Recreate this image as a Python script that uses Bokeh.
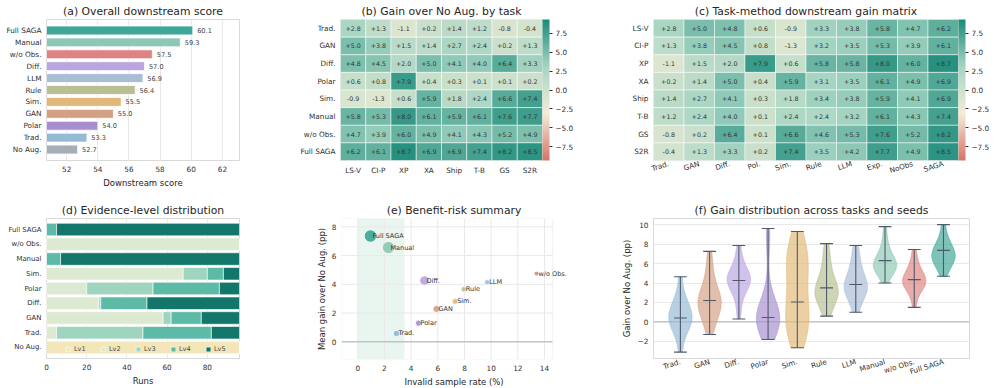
import numpy as np
from bokeh.plotting import figure
from bokeh.layouts import row, column
from bokeh.models import (ColumnDataSource, FactorRange, Range1d, LinearColorMapper, ColorBar,
                          FixedTicker, CustomJSTickFormatter, BoxAnnotation)
from bokeh.core.properties import value
from bokeh.embed import file_html
from bokeh.resources import INLINE

FONT = "DejaVu Sans"
INK = "#2f2f2f"
GRID = "#e9e9e9"
FRAME = "#d9d9d9"

# ---------------- data ----------------
# (a) overall downstream score
score_methods = ["Full SAGA", "Manual", "w/o Obs.", "Diff.", "LLM", "Rule", "Sim.", "GAN", "Polar", "Trad.", "No Aug."]
score_values = [60.1, 59.3, 57.5, 57.0, 56.9, 56.4, 55.5, 55.0, 54.0, 53.3, 52.7]

method_colors = {
    "Full SAGA": "#3fa797", "Manual": "#8ec8b5", "w/o Obs.": "#dd8482", "Diff.": "#baa5e0",
    "LLM": "#a9bdd6", "Rule": "#b8bf92", "Sim.": "#e0b978", "GAN": "#d4a084",
    "Polar": "#a78fcf", "Trad.": "#95bad4", "No Aug.": "#a5adb8",
}

# (b)/(c) gain over No Aug. per task
tasks = ["LS-V", "CI-P", "XP", "XA", "Ship", "T-B", "GS", "S2R"]
heat_rows = ["Trad.", "GAN", "Diff.", "Polar", "Sim.", "Manual", "w/o Obs.", "Full SAGA"]
gain_trad = [2.8, 1.3, -1.1, 0.2, 1.4, 1.2, -0.8, -0.4]
gain_gan = [5.0, 3.8, 1.5, 1.4, 2.7, 2.4, 0.2, 1.3]
gain_diff = [4.8, 4.5, 2.0, 5.0, 4.1, 4.0, 6.4, 3.3]
gain_polar = [0.6, 0.8, 7.9, 0.4, 0.3, 0.1, 0.1, 0.2]
gain_sim = [-0.9, -1.3, 0.6, 5.9, 1.8, 2.4, 6.6, 7.4]
gain_rule = [3.3, 3.2, 5.8, 3.1, 3.4, 2.4, 4.6, 3.5]
gain_llm = [3.8, 3.5, 5.8, 3.5, 3.8, 3.2, 5.3, 4.2]
gain_manual = [5.8, 5.3, 8.0, 6.1, 5.9, 6.1, 7.6, 7.7]
gain_noobs = [4.7, 3.9, 6.0, 4.9, 4.1, 4.3, 5.2, 4.9]
gain_saga = [6.2, 6.1, 8.7, 6.9, 6.9, 7.4, 8.2, 8.5]
matrix_cols = ["Trad.", "GAN", "Diff.", "Pol.", "Sim.", "Rule", "LLM", "Exp.", "NoObs", "SAGA"]
cbar_ticks = [-7.5, -5.0, -2.5, 0.0, 2.5, 5.0, 7.5]

# (d) evidence-level distribution (runs)
ev_methods = ["No Aug.", "Trad.", "GAN", "Diff.", "Polar", "Sim.", "Manual", "w/o Obs.", "Full SAGA"]
lv1 = [96, 0, 0, 0, 0, 0, 0, 0, 0]
lv2 = [0, 5, 58, 26, 20, 68, 0, 96, 0]
lv3 = [0, 43, 4, 1, 33, 12, 0, 0, 0]
lv4 = [0, 34, 15, 23, 33, 8, 7, 0, 5]
lv5 = [0, 14, 19, 46, 10, 8, 89, 0, 91]
lv_labels = ["Lv1", "Lv2", "Lv3", "Lv4", "Lv5"]
lv_colors = ["#f3e6b9", "#dcead2", "#9fd4bf", "#5cbaa6", "#12776a"]

# (e) benefit-risk summary
risk_methods = ["Full SAGA", "Manual", "Diff.", "w/o Obs.", "LLM", "Rule", "Sim.", "GAN", "Polar", "Trad."]
invalid_rate = [0.95, 2.3, 5.0, 13.4, 9.7, 7.95, 7.3, 5.9, 4.55, 2.9]
mean_gain = [7.36, 6.56, 4.26, 4.75, 4.14, 3.66, 2.81, 2.29, 1.30, 0.58]
top_level_share = [91, 89, 46, 0, 5, 5, 8, 19, 10, 14]
e_xticks = [0, 2, 4, 6, 8, 10, 12, 14]
e_yticks = [0, 2, 4, 6, 8]

# (f) gain distribution across tasks and seeds
vio_methods = ["Trad.", "GAN", "Diff.", "Polar", "Sim.", "Rule", "LLM", "Manual", "w/o Obs.", "Full SAGA"]
samples_trad = [-3.1, -1.6, -0.9, -0.5, -0.2, 0.0, 0.2, 0.4, 0.6, 0.9, 1.2, 1.5, 1.8, 2.2, 3.0, 4.65]
samples_gan = [-1.3, -0.4, 0.4, 0.9, 1.3, 1.6, 1.8, 2.0, 2.2, 2.4, 2.7, 3.2, 3.8, 4.6, 5.8, 7.25]
samples_diff = [0.3, 1.8, 2.8, 3.4, 3.8, 4.0, 4.2, 4.3, 4.4, 4.5, 4.7, 4.9, 5.3, 5.8, 6.6, 7.85]
samples_polar = [-1.8, -1.0, -0.6, -0.3, -0.1, 0.1, 0.2, 0.3, 0.45, 0.6, 0.8, 1.0, 1.4, 2.0, 2.9, 8.0, 9.6]
samples_sim = [-2.65, -1.8, -1.2, -0.7, -0.2, 0.3, 0.7, 1.2, 1.8, 2.5, 3.3, 4.2, 5.0, 5.6, 6.1, 6.6, 7.0, 7.5, 8.2, 9.3]
samples_rule = [0.6, 1.5, 2.1, 2.5, 2.7, 2.9, 3.1, 3.3, 3.5, 3.8, 4.3, 5.0, 5.8, 6.8, 8.05]
samples_llm = [1.0, 2.0, 2.6, 3.0, 3.2, 3.4, 3.6, 3.8, 4.0, 4.3, 4.7, 5.3, 6.0, 6.8, 7.85]
samples_manual = [4.0, 4.8, 5.2, 5.4, 5.6, 5.7, 5.8, 5.9, 6.1, 6.3, 6.6, 7.0, 7.6, 8.3, 9.8]
samples_noobs = [1.5, 2.8, 3.4, 3.7, 3.9, 4.0, 4.1, 4.2, 4.4, 4.6, 4.9, 5.2, 5.7, 6.3, 7.45]
samples_saga = [4.7, 5.5, 5.9, 6.2, 6.4, 6.6, 6.8, 7.0, 7.2, 7.5, 7.8, 8.2, 8.7, 10.0]
vio_median = [0.4, 2.2, 4.25, 0.45, 2.05, 3.5, 3.85, 6.3, 4.35, 7.35]


# ---------------- helpers ----------------
def lerp_palette(anchors, n=256):
    rgb = np.array([[int(c[i:i + 2], 16) for i in (1, 3, 5)] for c in anchors], float)
    t = np.linspace(0, 1, n)
    pos = np.linspace(0, 1, len(anchors))
    out = []
    for tt in t:
        r = [np.interp(tt, pos, rgb[:, k]) for k in range(3)]
        out.append("#%02x%02x%02x" % tuple(int(round(v)) for v in r))
    return out


def base_fig(x_range, y_range, fw, fh, l, r, t, b, title):
    p = figure(x_range=x_range, y_range=y_range, frame_width=fw, frame_height=fh,
               min_border_left=l, min_border_right=r, min_border_top=t, min_border_bottom=b,
               output_backend="svg", toolbar_location=None, title=title)
    p.background_fill_color = "white"
    p.border_fill_color = "white"
    p.outline_line_color = FRAME
    p.outline_line_width = 1
    p.title.text_font = FONT
    p.title.text_font_size = "10.8px"
    p.title.text_font_style = "normal"
    p.title.text_color = "#262626"
    p.title.align = "center"
    p.title.standoff = 3
    for ax in list(p.xaxis) + list(p.yaxis):
        ax.axis_line_color = None
        ax.major_tick_line_color = None
        ax.minor_tick_line_color = None
        ax.major_tick_out = 0
        ax.major_tick_in = 0
        ax.minor_tick_out = 0
        ax.minor_tick_in = 0
        ax.major_label_text_font = FONT
        ax.major_label_text_font_size = "7.3px"
        ax.major_label_text_color = INK
        ax.axis_label_text_font = FONT
        ax.axis_label_text_font_size = "8.5px"
        ax.axis_label_text_font_style = "normal"
        ax.axis_label_text_color = "#262626"
        ax.major_label_standoff = 5
        ax.axis_label_standoff = 3
    p.xgrid.grid_line_color = GRID
    p.ygrid.grid_line_color = GRID
    return p


minus_fmt0 = "return (tick < 0 ? '\\u2212' : '') + Math.abs(tick).toFixed(0);"
minus_fmt1 = "return (tick < 0 ? '\\u2212' : '') + Math.abs(tick).toFixed(1);"

# ---------------- (a) ----------------
pa = base_fig(Range1d(50.7, 63.1),
              FactorRange(factors=list(reversed(score_methods)), range_padding=0.42, range_padding_units="absolute"),
              193, 141, 46, 11, 19, 30, "(a) Overall downstream score")
src_a = ColumnDataSource(dict(m=score_methods, v=score_values,
                              c=[method_colors[m] for m in score_methods],
                              lx=[v + 0.28 for v in score_values],
                              lab=["%.1f" % v for v in score_values]))
pa.hbar(y="m", left=0, right="v", height=0.75, fill_color="c", fill_alpha=1.0,
        line_color="white", line_width=0.8, source=src_a)
pa.text(x="lx", y="m", text="lab", source=src_a, text_font=value(FONT), text_font_size="6.6px",
        text_color="#444444", text_baseline="middle", text_align="left")
pa.xaxis.ticker = FixedTicker(ticks=[52, 54, 56, 58, 60, 62])
pa.xaxis.axis_label = "Downstream score"
pa.ygrid.grid_line_color = None

# ---------------- heatmap palette ----------------
heat_palette = lerp_palette(["#d6756b", "#f4edd6", "#a6d5c3", "#1a8a78"])
mapper = LinearColorMapper(palette=heat_palette, low=-9.3, high=9.3)


def add_colorbar(p):
    cb = ColorBar(color_mapper=mapper, ticker=FixedTicker(ticks=cbar_ticks),
                  formatter=CustomJSTickFormatter(code=minus_fmt1),
                  width=7, padding=0, margin=3,
                  major_label_text_font=FONT, major_label_text_font_size="7.3px",
                  major_label_text_color=INK, major_tick_line_color=INK,
                  major_tick_in=0, major_tick_out=3, minor_tick_line_color=None,
                  bar_line_color=None, border_line_color=None,
                  background_fill_alpha=0, label_standoff=3)
    p.add_layout(cb, "right")


def heat_style(p):
    p.xgrid.grid_line_color = None
    p.ygrid.grid_line_color = None
    p.outline_line_color = "#e4e4e4"


# ---------------- (b) ----------------
b_series = [gain_trad, gain_gan, gain_diff, gain_polar, gain_sim, gain_manual, gain_noobs, gain_saga]
bx, by, bv = [], [], []
for rname, vals in zip(heat_rows, b_series):
    for t, v in zip(tasks, vals):
        bx.append(t); by.append(rname); bv.append(v)
src_b = ColumnDataSource(dict(x=bx, y=by, v=bv, lab=["%+.1f" % v for v in bv]))
pb = base_fig(FactorRange(factors=tasks), FactorRange(factors=list(reversed(heat_rows))),
              202, 141, 90, 58, 19, 30, "(b) Gain over No Aug. by task")
pb.rect(x="x", y="y", width=1, height=1, source=src_b,
        fill_color={"field": "v", "transform": mapper}, line_color="white", line_width=0.5)
pb.text(x="x", y="y", text="lab", source=src_b, text_font=value(FONT), text_font_size="6.3px",
        text_color="#333333", text_align="center", text_baseline="middle")
heat_style(pb)
add_colorbar(pb)

# ---------------- (c) ----------------
c_series = [gain_trad, gain_gan, gain_diff, gain_polar, gain_sim, gain_rule, gain_llm,
            gain_manual, gain_noobs, gain_saga]
cx, cy, cv = [], [], []
for cname, vals in zip(matrix_cols, c_series):
    for t, v in zip(tasks, vals):
        cx.append(cname); cy.append(t); cv.append(v)
src_c = ColumnDataSource(dict(x=cx, y=cy, v=cv, lab=["%+.1f" % v for v in cv]))
pc = base_fig(FactorRange(factors=matrix_cols), FactorRange(factors=list(reversed(tasks))),
              305, 141, 53, 39, 19, 30, "(c) Task-method downstream gain matrix")
pc.rect(x="x", y="y", width=1, height=1, source=src_c,
        fill_color={"field": "v", "transform": mapper}, line_color="white", line_width=0.5)
pc.text(x="x", y="y", text="lab", source=src_c, text_font=value(FONT), text_font_size="6.3px",
        text_color="#333333", text_align="center", text_baseline="middle")
pc.xaxis.major_label_orientation = 0.3
pc.xaxis.major_label_standoff = 3
heat_style(pc)
add_colorbar(pc)

# ---------------- (d) ----------------
src_d = ColumnDataSource(dict(m=ev_methods, Lv1=lv1, Lv2=lv2, Lv3=lv3, Lv4=lv4, Lv5=lv5))
pd_ = base_fig(Range1d(0, 96),
               FactorRange(factors=ev_methods, range_padding=0.25, range_padding_units="absolute"),
               193, 140, 46, 51, 28, 30, "(d) Evidence-level distribution")
pd_.hbar_stack(lv_labels, y="m", height=0.85, color=lv_colors, source=src_d,
               line_color="white", line_width=0.6, legend_label=lv_labels)
pd_.xaxis.ticker = FixedTicker(ticks=[0, 20, 40, 60, 80])
pd_.xaxis.axis_label = "Runs"
pd_.ygrid.grid_line_color = None
pd_.yaxis.major_label_text_font_size = "6.9px"
leg = pd_.legend[0]
leg.orientation = "horizontal"
leg.location = "bottom_right"
leg.background_fill_alpha = 0
leg.border_line_alpha = 0
leg.label_text_font = FONT
leg.label_text_font_size = "6.5px"
leg.label_text_color = "#444444"
leg.glyph_width = 6
leg.glyph_height = 6
leg.label_height = 7
leg.label_standoff = 3
leg.spacing = 6
leg.padding = 1
leg.margin = 4

# ---------------- (e) ----------------
# the drawing area is widened to the right so that the "w/o Obs." label can extend
# past the visible axes box, as in the reference; the box itself is drawn separately
E_X0, E_X1, E_Y0, E_Y1 = -1.22, 14.6, -1.23, 8.58
E_EXTRA = 1.05
src_e = ColumnDataSource(dict(x=invalid_rate, y=mean_gain, name=risk_methods,
                              c=[method_colors[m] for m in risk_methods],
                              s=[float(np.sqrt(22 + 1.45 * v)) for v in top_level_share]))
pe = base_fig(Range1d(E_X0, E_X1 + E_EXTRA), Range1d(E_Y0, E_Y1), 225, 141, 51, 34, 26, 31,
              "(e) Benefit-risk summary")
pe.title.offset = -7
pe.outline_line_color = None
pe.ygrid.grid_line_color = None
pe.xgrid.grid_line_color = None
pe.segment(x0=e_xticks, y0=[E_Y0] * len(e_xticks), x1=e_xticks, y1=[E_Y1] * len(e_xticks),
           line_color=GRID, line_width=1)
pe.segment(x0=[E_X0] * len(e_yticks), y0=e_yticks, x1=[E_X1] * len(e_yticks), y1=e_yticks,
           line_color=GRID, line_width=1)
pe.add_layout(BoxAnnotation(left=0, right=3.5, fill_color="#cfe8dc", fill_alpha=0.45,
                            line_color=None, level="underlay"))
pe.segment(x0=[E_X0], y0=[0], x1=[E_X1], y1=[0], line_color="#a6b0bc", line_width=1)
pe.add_layout(BoxAnnotation(left=E_X0, right=E_X1, bottom=E_Y0, top=E_Y1, fill_alpha=0,
                            line_color=FRAME, line_width=1.2, level="overlay"))
pe.scatter(x="x", y="y", size="s", fill_color="c", fill_alpha=0.92, line_color="white",
           line_width=0.8, source=src_e)
pe.text(x="x", y="y", text="name", source=src_e, x_offset=2, y_offset=0,
        text_font=value(FONT), text_font_size="6.5px", text_color="#333333",
        text_baseline="alphabetic", text_align="left")
pe.xaxis.ticker = FixedTicker(ticks=e_xticks)
pe.yaxis.ticker = FixedTicker(ticks=e_yticks)
pe.yaxis.formatter = CustomJSTickFormatter(code=minus_fmt0)
pe.xaxis.axis_label = "Invalid sample rate (%)"
pe.yaxis.axis_label = "Mean gain over No Aug. (pp)"
pe.yaxis.axis_label_standoff = 2

# ---------------- (f) ----------------
vio_samples = [samples_trad, samples_gan, samples_diff, samples_polar, samples_sim,
               samples_rule, samples_llm, samples_manual, samples_noobs, samples_saga]
pf = base_fig(Range1d(0.08, 10.89), Range1d(-3.76, 10.63), 316, 140, 53, 28, 27, 31,
              "(f) Gain distribution across tasks and seeds")
positions = list(range(1, len(vio_methods) + 1))
pf.segment(x0=[0.08], y0=[0], x1=[10.89], y1=[0], line_color="#a6b0bc", line_width=1)
pxs, pys, pcol = [], [], []
for pos, smp in zip(positions, vio_samples):
    s = np.asarray(smp, float)
    bw = s.std(ddof=1) * len(s) ** (-0.2)
    ys = np.linspace(s.min(), s.max(), 120)
    dens = np.exp(-0.5 * ((ys[:, None] - s[None, :]) / bw) ** 2).sum(axis=1)
    half = 0.4 * dens / dens.max()
    pxs.append(list(pos - half) + list((pos + half)[::-1]))
    pys.append(list(ys) + list(ys[::-1]))
for m in vio_methods:
    pcol.append(method_colors[m])
pf.patches(xs=pxs, ys=pys, fill_color=pcol, fill_alpha=0.68, line_color=pcol, line_alpha=0.7,
           line_width=0.8)
vmin = [min(s) for s in vio_samples]
vmax = [max(s) for s in vio_samples]
src_f = ColumnDataSource(dict(pos=positions, lo=vmin, hi=vmax, med=vio_median,
                              l=[p - 0.22 for p in positions], r=[p + 0.22 for p in positions]))
WH = "#4f5a6b"
pf.segment(x0="pos", y0="lo", x1="pos", y1="hi", source=src_f, line_color=WH, line_width=1.1)
pf.segment(x0="l", y0="lo", x1="r", y1="lo", source=src_f, line_color=WH, line_width=1.1)
pf.segment(x0="l", y0="hi", x1="r", y1="hi", source=src_f, line_color=WH, line_width=1.1)
pf.segment(x0="l", y0="med", x1="r", y1="med", source=src_f, line_color=WH, line_width=1.1)
pf.xaxis.ticker = FixedTicker(ticks=positions)
pf.xaxis.major_label_overrides = {p: m for p, m in zip(positions, vio_methods)}
pf.xaxis.major_label_orientation = 0.3
pf.xaxis.major_label_standoff = 3
pf.yaxis.ticker = FixedTicker(ticks=[-2, 0, 2, 4, 6, 8, 10])
pf.yaxis.formatter = CustomJSTickFormatter(code=minus_fmt0)
pf.yaxis.axis_label = "Gain over No Aug. (pp)"
pf.xgrid.grid_line_color = None

layout = column(row(pa, pb, pc), row(pd_, pe, pf))
open("out.html", "w", encoding="utf-8").write(file_html(layout, INLINE))
